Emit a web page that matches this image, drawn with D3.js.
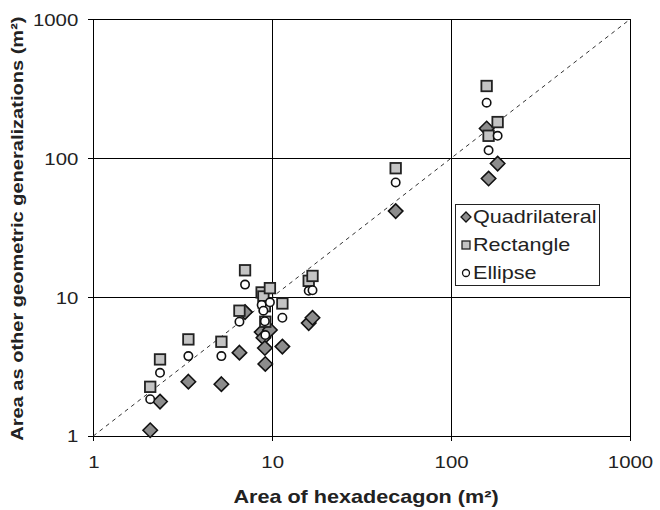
<!DOCTYPE html>
<html>
<head>
<meta charset="utf-8">
<script src="https://cdn.jsdelivr.net/npm/d3@7"></script>
<style>
  html, body { margin: 0; padding: 0; background: #fff; }
  svg { display: block; font-family: "Liberation Sans", Arial, sans-serif; }
  /* text in this chart is set slightly wide */
  .wide { transform-box: fill-box; transform: scaleX(1.2); }
  .wide.mid { transform-origin: center center; }
  .wide.end { transform-origin: right center; }
  .wide.start { transform-origin: left center; }
</style>
</head>
<body>
<svg id="chart" width="660" height="510"></svg>
<script>
// Area of the hexadecagon for each parcel (x) and the area of each generalization (y)
const hexArea       = [2.08, 2.36, 3.40, 5.2, 6.56, 7.05, 8.73, 8.93, 9.71, 9.1, 9.15, 11.4, 16.0, 16.8, 49, 158, 162, 182];
const quadrilateral = [1.10, 1.77, 2.46, 2.36, 3.98, 7.8, 5.6, 5.1, 5.8, 4.3, 3.3, 4.4, 6.5, 7.1, 41.6, 163.6, 71.4, 91.5];
const rectangle     = [2.26, 3.56, 4.96, 4.77, 7.98, 15.6, 10.8, 10.1, 11.6, 8.6, 6.65, 9.0, 13.1, 14.2, 84.7, 331, 145, 182];
const ellipse       = [1.84, 2.85, 3.76, 3.76, 6.65, 12.3, 8.77, 7.98, 9.17, 6.7, 5.33, 7.1, 11.1, 11.2, 66.9, 251, 114, 145];
const tickValues    = [1, 10, 100, 1000];
const seriesNames   = ["Quadrilateral", "Rectangle", "Ellipse"];

const svg = d3.select("#chart");
const plotLeft = 93.3, plotRight = 630, plotTop = 19.3, plotBottom = 436;

const x = d3.scaleLog().domain([1, 1000]).range([plotLeft, plotRight]);
const y = d3.scaleLog().domain([1, 1000]).range([plotBottom, plotTop]);

// Gridlines at each decade
const grid = svg.append("g").attr("stroke", "#000").attr("stroke-width", 1).attr("shape-rendering", "crispEdges");
tickValues.forEach(v => {
  grid.append("line").attr("x1", x(v)).attr("x2", x(v)).attr("y1", plotTop).attr("y2", plotBottom);
  grid.append("line").attr("x1", plotLeft).attr("x2", plotRight).attr("y1", y(v)).attr("y2", y(v));
});

// Axes
const fmt = d => String(d);
const xAxis = d3.axisBottom(x).tickValues(tickValues).tickFormat(fmt).tickSize(5).tickPadding(15);
const yAxis = d3.axisLeft(y).tickValues(tickValues).tickFormat(fmt).tickSize(5).tickPadding(10);

const gx = svg.append("g").attr("transform", `translate(0,${plotBottom})`).call(xAxis);
const gy = svg.append("g").attr("transform", `translate(${plotLeft},0)`).call(yAxis);
[gx, gy].forEach(g => {
  g.select(".domain").attr("stroke", "#000").attr("shape-rendering", "crispEdges");
  g.selectAll(".tick line").attr("stroke", "#000").attr("shape-rendering", "crispEdges");
  g.selectAll(".tick text").attr("fill", "#222").attr("font-size", 17)
    .attr("font-family", "'Liberation Sans', Arial, sans-serif");
});
gx.selectAll(".tick text").attr("class", "wide mid");
gy.selectAll(".tick text").attr("class", "wide end").attr("dy", "0.35em");

// 1:1 reference line
svg.append("line")
  .attr("x1", x(1)).attr("y1", y(1)).attr("x2", x(1000)).attr("y2", y(1000))
  .attr("stroke", "#333").attr("stroke-width", 1).attr("stroke-dasharray", "4,4");

// Marker drawing
const diamond = (g, cx, cy, r) => g.append("path")
  .attr("d", `M${cx},${cy - r}L${cx + r},${cy}L${cx},${cy + r}L${cx - r},${cy}Z`);
const square = (g, cx, cy, s) => g.append("rect")
  .attr("x", cx - s / 2).attr("y", cy - s / 2).attr("width", s).attr("height", s);
const circle = (g, cx, cy, r) => g.append("circle").attr("cx", cx).attr("cy", cy).attr("r", r);

const gQ = svg.append("g").attr("fill", "#8c8c8c").attr("stroke", "#111").attr("stroke-width", 1.6);
hexArea.forEach((v, i) => diamond(gQ, x(v), y(quadrilateral[i]), 7.2));

const gR = svg.append("g").attr("fill", "#c4c4c4").attr("stroke", "#222").attr("stroke-width", 1.8);
hexArea.forEach((v, i) => square(gR, x(v), y(rectangle[i]), 10.5));

const gE = svg.append("g").attr("fill", "#fff").attr("stroke", "#111").attr("stroke-width", 1.6);
hexArea.forEach((v, i) => circle(gE, x(v), y(ellipse[i]), 4.2));

// Legend
const lg = svg.append("g");
lg.append("rect").attr("x", 455.5).attr("y", 204.5).attr("width", 144).attr("height", 81)
  .attr("fill", "#fff").attr("stroke", "#222").attr("stroke-width", 1);
const rowY = [217, 245, 273];
const lgQ = lg.append("g").attr("fill", "#8c8c8c").attr("stroke", "#111").attr("stroke-width", 1.3);
diamond(lgQ, 466, rowY[0], 5);
const lgR = lg.append("g").attr("fill", "#c4c4c4").attr("stroke", "#222").attr("stroke-width", 1.3);
square(lgR, 466, rowY[1], 8);
const lgE = lg.append("g").attr("fill", "#fff").attr("stroke", "#111").attr("stroke-width", 1.3);
circle(lgE, 466, rowY[2], 3.5);
seriesNames.forEach((name, i) => {
  lg.append("text").attr("class", "wide start").attr("x", 473).attr("y", rowY[i]).attr("dy", "0.36em")
    .attr("font-size", 18).attr("fill", "#222").text(name);
});

// Axis titles
svg.append("text").attr("class", "wide mid").attr("x", 366).attr("y", 503)
  .attr("text-anchor", "middle").attr("font-size", 18).attr("font-weight", "bold").attr("fill", "#222")
  .text("Area of hexadecagon (m²)");
svg.append("text").attr("transform", `translate(23,${(plotTop + plotBottom) / 2 + 1}) rotate(-90) scale(1.18,1)`)
  .attr("text-anchor", "middle").attr("font-size", 17).attr("font-weight", "bold").attr("fill", "#222")
  .text("Area as other geometric generalizations (m²)");
</script>
</body>
</html>
